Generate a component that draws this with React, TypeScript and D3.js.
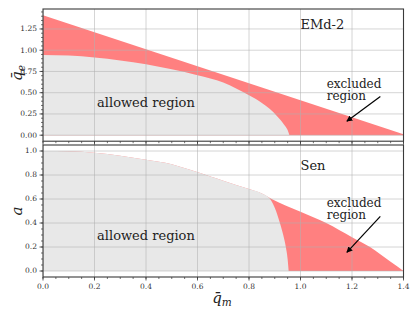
import React from "react";
import * as d3 from "d3";

// EMd-2 panel: outer bound (straight line) and allowed-region boundary
const emdOuterQm = [0, 1.4];
const emdOuterQe = [1.41, 0.012];
const emdInnerQm = [0, 0.1, 0.2, 0.3, 0.4, 0.5, 0.6, 0.7, 0.75, 0.8, 0.85, 0.88, 0.91, 0.935, 0.95, 0.957];
const emdInnerQe = [0.945, 0.937, 0.915, 0.88, 0.835, 0.775, 0.705, 0.62, 0.55, 0.47, 0.38, 0.31, 0.22, 0.13, 0.06, 0.0];

// Sen panel
const senOuterQm = [0, 0.1, 0.2, 0.3, 0.4, 0.5, 0.571, 0.65, 0.7, 0.8, 0.848, 0.888, 1.0, 1.1, 1.2, 1.27, 1.35, 1.4];
const senOuterA = [1.0, 0.997, 0.985, 0.96, 0.927, 0.89, 0.843, 0.788, 0.753, 0.683, 0.648, 0.6, 0.494, 0.4, 0.282, 0.2, 0.077, 0.0];
const senInnerQm = [0, 0.1, 0.2, 0.3, 0.4, 0.5, 0.571, 0.65, 0.7, 0.8, 0.848, 0.882, 0.905, 0.92, 0.933, 0.943, 0.95, 0.954];
const senInnerA = [1.0, 0.997, 0.985, 0.96, 0.927, 0.89, 0.843, 0.788, 0.753, 0.683, 0.648, 0.6, 0.5, 0.4, 0.3, 0.2, 0.1, 0.0];

const xTicks = [0, 0.2, 0.4, 0.6, 0.8, 1.0, 1.2, 1.4];
const topYTicks = [0, 0.25, 0.5, 0.75, 1.0, 1.25];
const botYTicks = [0, 0.2, 0.4, 0.6, 0.8, 1.0];

const RED = "#ff8080";
const GRAY = "#e8e8e8";
const SERIF = "'DejaVu Serif', serif";

const x = d3.scaleLinear().domain([0, 1.4]).range([43, 403.5]);
const yTop = d3.scaleLinear().domain([-0.0707, 1.4849]).range([141.2, 9]);
const yBot = d3.scaleLinear().domain([-0.05, 1.05]).range([277, 145]);

function zip(a: number[], b: number[]) {
  return a.map((v, i) => [v, b[i]] as [number, number]);
}

function Panel({ y, yTicks, fmt, outer, inner, curveOuter, id, label, yMinor }: any) {
  const [x0, x1] = x.range();
  const [yb, yt] = y.range();
  const areaOf = (curve: any) =>
    d3.area<[number, number]>()
      .x((d) => x(d[0]))
      .y0(y(0))
      .y1((d) => y(d[1]))
      .curve(curve);
  const xMinor = d3.range(0, 1.4001, 0.05);
  return (
    <g>
      <defs>
        <clipPath id={id}>
          <rect x={x0} y={yt} width={x1 - x0} height={yb - yt} />
        </clipPath>
      </defs>
      <g clipPath={`url(#${id})`}>
        <path d={areaOf(curveOuter)(outer) || ""} fill={RED} />
        <path d={areaOf(d3.curveMonotoneX)(inner) || ""} fill={GRAY} />
        {xTicks.map((t) => (
          <line key={"gx" + t} x1={x(t)} x2={x(t)} y1={yt} y2={yb} stroke="#b0b0b0" strokeOpacity={0.6} strokeWidth={0.9} />
        ))}
        {yTicks.map((t: number) => (
          <line key={"gy" + t} x1={x0} x2={x1} y1={y(t)} y2={y(t)} stroke="#b0b0b0" strokeOpacity={0.6} strokeWidth={0.9} />
        ))}
      </g>
      {xMinor.map((t) => (
        <line key={"mx" + t} x1={x(t)} x2={x(t)} y1={yb} y2={yb + 2} stroke="#333" strokeWidth={0.7} />
      ))}
      {xTicks.map((t) => (
        <line key={"tx" + t} x1={x(t)} x2={x(t)} y1={yb} y2={yb + 3.5} stroke="#333" strokeWidth={0.8} />
      ))}
      {yMinor.map((t: number) => (
        <line key={"my" + t} x1={x0 - 2} x2={x0} y1={y(t)} y2={y(t)} stroke="#333" strokeWidth={0.7} />
      ))}
      {yTicks.map((t: number) => (
        <g key={"ty" + t}>
          <line x1={x0 - 3.5} x2={x0} y1={y(t)} y2={y(t)} stroke="#333" strokeWidth={0.8} />
          <text x={x0 - 6} y={y(t)} dy="0.33em" textAnchor="end" fontSize={7.5} fontFamily={SERIF} fill="#333">
            {fmt(t)}
          </text>
        </g>
      ))}
      <rect x={x0} y={yt} width={x1 - x0} height={yb - yt} fill="none" stroke="#3a3a3a" strokeWidth={1.1} />
      <text x={x(1.0)} y={y(label.y)} fontSize={13} fontFamily={SERIF} fill="#222">
        {label.text}
      </text>
    </g>
  );
}

function Annot({ y, allowedY, exclY1, arrowFrom, arrowTo }: any) {
  const b1 = y(exclY1);
  return (
    <g fontFamily={SERIF} fill="#222">
      <text x={x(0.21)} y={y(allowedY)} fontSize={13}>allowed region</text>
      <text x={x(1.102)} y={b1} fontSize={12}>excluded</text>
      <text x={x(1.102)} y={b1 + 12.5} fontSize={12}>region</text>
      <line x1={x(arrowFrom[0])} y1={y(arrowFrom[1])} x2={x(arrowTo[0])} y2={y(arrowTo[1])} stroke="#000" strokeWidth={1.2} markerEnd="url(#arr)" />
    </g>
  );
}

export default function App() {
  const minorTop = d3.range(0, 1.4501, 0.05);
  const minorBot = d3.range(0, 1.0001, 0.05);
  return (
    <svg width={416} height={313} style={{ display: "block", position: "absolute", left: 0, top: 0 }}>
      <defs>
        <marker id="arr" viewBox="0 0 10 10" refX="9" refY="5" markerWidth="5" markerHeight="5" orient="auto-start-reverse">
          <path d="M0,0 L10,5 L0,10 z" fill="#000" />
        </marker>
      </defs>
      <rect width={416} height={313} fill="#fff" />
      <Panel
        id="clipTop"
        y={yTop}
        yTicks={topYTicks}
        yMinor={minorTop}
        fmt={d3.format(".2f")}
        outer={zip(emdOuterQm, emdOuterQe)}
        inner={zip(emdInnerQm, emdInnerQe)}
        curveOuter={d3.curveLinear}
        label={{ text: "EMd-2", y: 1.245 }}
      />
      <Panel
        id="clipBot"
        y={yBot}
        yTicks={botYTicks}
        yMinor={minorBot}
        fmt={d3.format(".1f")}
        outer={zip(senOuterQm, senOuterA)}
        inner={zip(senInnerQm, senInnerA)}
        curveOuter={d3.curveMonotoneX}
        label={{ text: "Sen", y: 0.84 }}
      />
      <Annot y={yTop} allowedY={0.33} exclY1={0.56} arrowFrom={[1.31, 0.455]} arrowTo={[1.18, 0.165]} />
      <Annot y={yBot} allowedY={0.255} exclY1={0.535} arrowFrom={[1.31, 0.455]} arrowTo={[1.18, 0.155]} />
      {xTicks.map((t) => (
        <text key={"xl" + t} x={x(t)} y={289} textAnchor="middle" fontSize={7.5} fontFamily={SERIF} fill="#333">
          {d3.format(".1f")(t)}
        </text>
      ))}
      <text x={222} y={303} textAnchor="middle" fontSize={15} fontFamily={SERIF} fontStyle="italic" fill="#222">
        q̄<tspan fontSize={10.5} dy={3}>m</tspan>
      </text>
      <text transform="translate(22,73) rotate(-90)" textAnchor="middle" fontSize={15} fontFamily={SERIF} fontStyle="italic" fill="#222">
        q̄<tspan fontSize={10.5} dy={3}>e</tspan>
      </text>
      <text transform="translate(22,211) rotate(-90)" textAnchor="middle" fontSize={15} fontFamily={SERIF} fontStyle="italic" fill="#222">
        a
      </text>
    </svg>
  );
}
